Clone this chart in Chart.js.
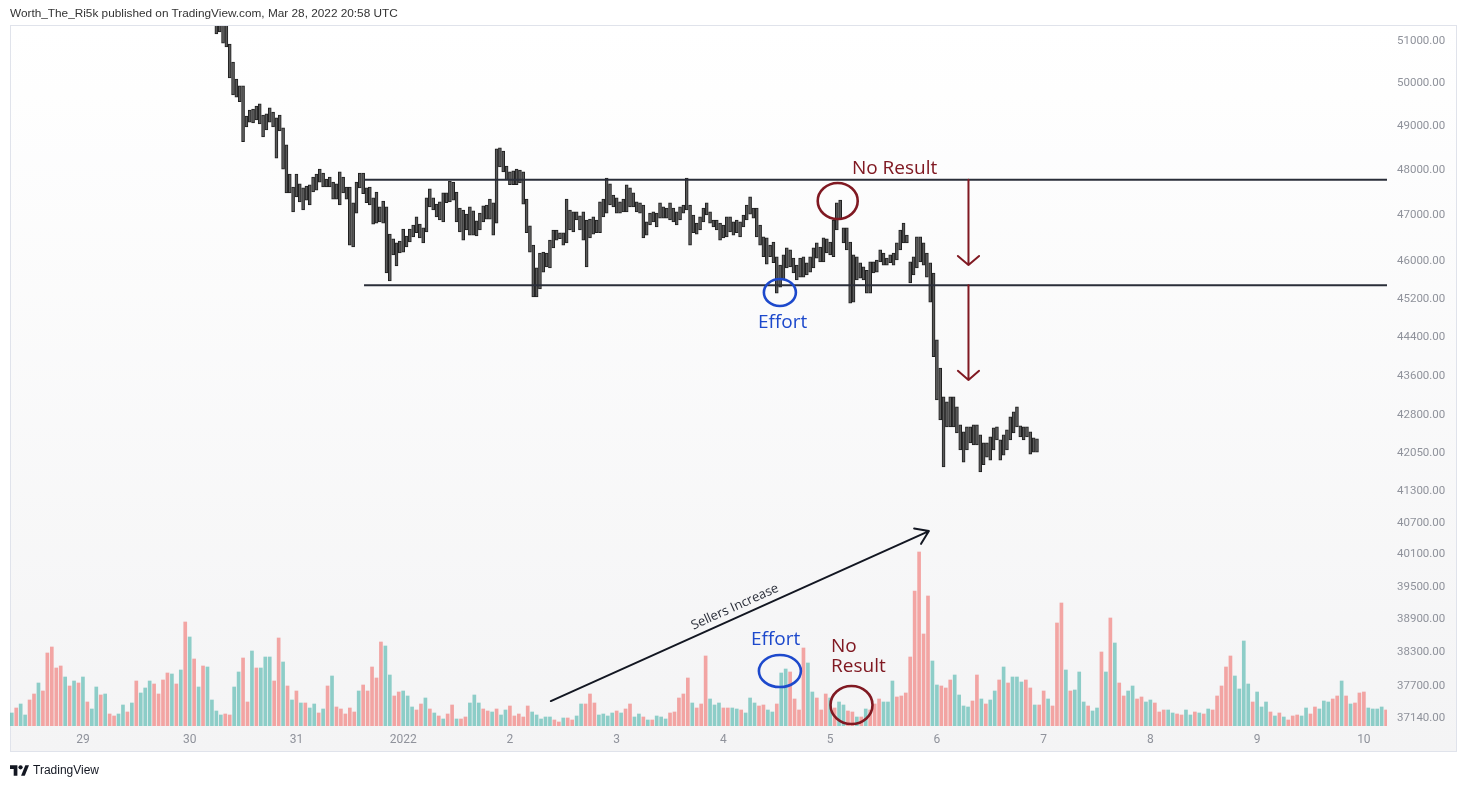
<!DOCTYPE html>
<html>
<head>
<meta charset="utf-8">
<script src="https://cdn.jsdelivr.net/npm/chart.js@4.4.0/dist/chart.umd.min.js"></script>
<style>
  body { margin: 0; width: 1467px; height: 788px; overflow: hidden; position: relative; background: #fff; }
  canvas { position: absolute; left: 0; top: 0; }
  #head { position: absolute; left: 10px; top: 6px; font: 11.8px "Liberation Sans", sans-serif; color: #333; line-height: 14px; }
  #foot { position: absolute; left: 10px; top: 763px; font: 12px "Liberation Sans", sans-serif; color: #131722; display: flex; align-items: center; line-height: 14px; }
  #foot svg { margin-right: 4px; }
</style>
</head>
<body>
<canvas id="chart" width="1467" height="788"></canvas>
<div id="head">Worth_The_Ri5k published on TradingView.com, Mar 28, 2022 20:58 UTC</div>
<div id="foot"><svg width="19" height="11" viewBox="0 0 36 20"><path d="M14 20H7V7H0V0h14z" fill="#131722"/><circle cx="20" cy="4" r="4" fill="#131722"/><path d="M29 0h7l-8 20h-7z" fill="#131722"/></svg>TradingView</div>
<script>
// time: hours since Dec 28 2021 00:00 UTC
var dayLabels = ['29', '30', '31', '2022', '2', '3', '4', '5', '6', '7', '8', '9', '10'];
var priceTicks = [51000, 50000, 49000, 48000, 47000, 46000, 45200, 44400, 43600, 42800, 42050, 41300, 40700, 40100, 39500, 38900, 38300, 37700, 37140];

// 45 min price bars, first one Dec 30 06:00
var priceStart = 54, priceStep = 0.75;
var priceHigh = [
  51700,51650,51500,51400,50930,50500,50100,49940,49940,49240,
  49380,49400,49470,49520,49260,49290,49430,49330,49200,49260,
  48970,48580,47920,47630,47920,47700,47610,47650,47680,47850,
  47920,48030,47940,47810,47850,47740,47700,47970,47850,47630,
  47630,47280,47740,47940,47940,47610,47630,47390,47520,47190,
  47320,47190,46590,46490,46400,46440,46700,46550,46700,46790,
  46970,46810,46730,47390,47590,47390,47250,47300,47500,47500,
  47760,47740,47520,47160,47120,47030,47190,47100,46880,47050,
  47210,47230,47360,47280,48490,48510,48440,48100,47970,47990,
  48030,48010,47970,47360,46770,46350,45860,46180,46200,46180,
  46460,46680,46680,46620,46620,47360,47120,47080,47080,46990,
  47080,46900,46920,46970,46900,47300,47360,47830,47700,47450,
  47390,47300,47360,47680,47610,47500,47300,47280,47230,46860,
  47050,47080,47050,47280,47190,47160,47280,47160,47080,47190,
  47230,47830,47230,47010,46830,46970,47160,47280,47080,46900,
  46900,46830,46790,46970,46970,46860,46900,46860,47010,47230,
  47410,47160,47160,46790,46530,46510,46350,46420,46100,45920,
  46140,46290,46250,46070,45920,46070,46100,45970,46100,46290,
  46400,46310,46510,46490,46420,46900,47280,47340,46730,46730,
  46420,46140,46100,45970,45880,45810,45990,45990,46030,46250,
  46180,46070,46140,46180,46400,46680,46830,46570,45990,46100,
  46530,46530,46400,46180,45970,45750,44340,43760,43170,43070,
  43170,43170,42970,42610,42470,42570,42570,42610,42610,42410,
  42250,42250,42370,42550,42570,42310,42410,42510,42770,42870,
  42970,42590,42570,42570,42470,42350,42330
];
var priceLow = [
  51170,51220,50950,50860,50130,49730,49680,49570,48650,48990,
  49100,49080,49150,49060,48760,48920,49100,48990,48280,48900,
  48030,47500,47500,47080,47410,47300,47120,47340,47230,47520,
  47560,47740,47630,47630,47630,47360,47360,47230,47500,47360,
  46350,46310,47050,47610,47480,47280,47230,46810,46830,46860,
  46830,45750,45580,46140,45900,46180,46200,46310,46420,46530,
  46620,46510,46400,46640,47190,47120,46970,46900,46860,47280,
  47300,47340,46860,46640,46460,46680,46570,46570,46550,46680,
  46860,46920,46920,46570,46830,48080,47970,47790,47680,47680,
  47680,47720,47250,46620,46200,45240,45240,45410,45770,45880,
  45860,46290,46460,46490,46350,46400,46680,46640,46900,46680,
  46460,45880,46510,46590,46620,46620,46970,47050,47230,47190,
  47050,47050,47080,47080,47190,47190,47080,47050,46510,46570,
  46790,46860,46750,46940,46940,46940,46900,46860,46790,46900,
  47050,47120,46350,46620,46590,46680,46860,47010,46830,46750,
  46680,46460,46510,46530,46640,46570,46620,46530,46750,46900,
  47030,46940,46530,46350,46100,45940,46100,45970,45320,45450,
  45600,45860,45880,45750,45600,45660,45660,45710,45770,45860,
  46070,45990,45990,46180,46140,46100,46680,46900,46400,46250,
  45110,45130,45600,45640,45600,45320,45320,45750,45770,45990,
  45920,45920,45970,45920,46030,46250,46400,46400,45540,45710,
  45860,45990,45920,45660,45130,43990,43110,42710,41780,42570,
  42570,42570,42450,42110,41870,42110,42250,42210,42210,41680,
  41820,41970,41910,42110,42310,41910,42010,42110,42310,42450,
  42570,42370,42310,42370,42030,42070,42070
];

// hourly volume, first bar Dec 28 08:00
var volumeStart = 8;
var volume = [
  520,720,880,440,1040,1280,1720,1400,2920,3160,
  2320,2400,1960,1600,1800,1720,1960,960,680,1560,
  1240,1280,480,400,480,840,560,920,1800,1320,
  1520,1800,1680,1280,1840,2120,2080,1680,2240,4160,
  3560,2680,1560,2400,2360,1040,600,440,480,440,
  1560,2160,2720,960,3000,2320,2320,2760,2760,1800,
  3520,2560,1600,1040,1400,920,920,720,880,520,
  680,1600,2000,760,680,480,720,560,1400,1640,
  1400,2360,1920,3360,3200,2040,1200,1360,1400,1200,
  760,640,880,1120,680,520,400,280,480,840,
  280,280,360,920,1240,920,680,600,560,680,
  440,640,800,400,480,360,800,560,440,280,
  360,360,240,160,320,320,240,400,880,880,
  1280,920,440,480,400,520,600,520,680,880,
  360,480,360,240,240,400,360,280,520,560,
  1120,1280,1920,920,720,880,2800,1080,840,920,
  720,720,720,680,640,520,1120,920,800,840,
  640,560,880,2120,2280,2160,1080,640,3120,2520,
  1360,1120,640,1280,1120,720,960,840,600,560,
  360,360,680,640,880,1080,960,960,1800,1160,
  1200,1320,2760,5400,6960,3680,5200,2600,1640,1600,
  1520,1840,2040,1240,800,760,1000,2040,1080,880,
  1040,1400,1840,2360,1720,1960,1960,1760,1840,1520,
  840,840,1400,1080,800,4120,4920,2240,1400,1440,
  2160,960,800,600,720,2960,2160,4320,3320,1720,
  1200,1400,1600,1080,1160,960,1040,920,560,640,
  640,520,480,440,640,440,560,520,480,680,
  640,1200,1600,2360,2800,2000,1480,3400,1680,960,
  1360,760,960,560,400,520,360,240,400,440,
  400,720,480,760,680,1000,960,1080,1200,1800,
  1200,880,920,1320,1360,720,680,680,760,640
];
// u = up bar, d = down bar
var volumeSide = (
  'uduudduddd ddudududuu dudduududu uuddddudud ududuuuudd ' +
  'uudduduuud dudududuud ududddddud dddduudduu uddudududd ' +
  'udduuuddud uuddddduuu uuddudduud dduuuududd uududuuudd ' +
  'ddduddduuu dduuduuudd uuduuddddu uddduduudd ududdduuud ' +
  'ddddddduud dduuuuddud uududuuudd uddudddudu uuduududud ' +
  'duudduuddd uudduududu ddddduuuud uuudududdd uudduuuddu ' +
  'duddduuuud'
).replace(/ /g, '').split('');

var rangeTop = 47790, rangeBottom = 45490, rangeFrom = 87.2;

var darkRed = '#801922', blue = '#1d49cc';
var notes = [
  { text: 'No Result', h: 196.9, p: 47920, color: darkRed },
  { text: 'Effort', h: 175.75, p: 44590, color: blue },
  { text: 'Effort', h: 174.2, p: 38435, color: blue },
  { text: 'No', h: 192.2, p: 38308, color: darkRed },
  { text: 'Result', h: 192.2, p: 37952, color: darkRed }
];
var rings = [
  { h: 193.7, p: 47320, rx: 20, ry: 18, color: darkRed },
  { h: 180.7, p: 45334, rx: 16, ry: 13.5, color: blue },
  { h: 180.7, p: 37969, rx: 21, ry: 16, color: blue },
  { h: 196.8, p: 37370, rx: 21, ry: 19, color: darkRed }
];
var arrows = [
  { h1: 223.1, p1: rangeTop, h2: 223.1, p2: 45920, color: darkRed, len: 14, spread: 0.86 },
  { h1: 223.1, p1: rangeBottom, h2: 223.1, p2: 43514, color: darkRed, len: 14, spread: 0.86 },
  { h1: 129.2, p1: 37439, h2: 214.2, p2: 40542, color: '#131722', len: 15, spread: 0.6 }
];

var priceBars = priceHigh.map(function (hi, i) {
  return { x: priceStart + i * priceStep, y: [priceLow[i], hi] };
});
var volBars = volume.map(function (v, i) {
  return { x: volumeStart + i, y: v };
});
var volColors = volumeSide.map(function (s) {
  return s === 'u' ? 'rgba(38,166,154,0.5)' : 'rgba(239,83,80,0.5)';
});

var background = {
  id: 'background',
  beforeDraw: function (chart) {
    var ctx = chart.ctx;
    ctx.save();
    ctx.fillStyle = '#ffffff';
    ctx.fillRect(0, 0, chart.width, chart.height);
    var g = ctx.createLinearGradient(0, 26, 0, 752);
    g.addColorStop(0, '#ffffff');
    g.addColorStop(1, '#f4f4f5');
    ctx.fillStyle = g;
    ctx.fillRect(10, 26, 1447, 726);
    ctx.strokeStyle = '#e0e3eb';
    ctx.lineWidth = 1;
    ctx.strokeRect(10.5, 25.5, 1446, 726);
    ctx.restore();
  }
};

var drawings = {
  id: 'drawings',
  afterDatasetsDraw: function (chart) {
    var ctx = chart.ctx, xs = chart.scales.x, ys = chart.scales.y;
    function X(h) { return xs.getPixelForValue(h); }
    function Y(p) { return ys.getPixelForValue(p); }
    ctx.save();
    ctx.lineCap = 'round';
    ctx.lineJoin = 'round';

    notes.forEach(function (n) {
      ctx.font = '19px "Open Sans"';
      ctx.fillStyle = n.color;
      ctx.textAlign = 'left';
      ctx.textBaseline = 'alphabetic';
      ctx.fillText(n.text, X(n.h), Y(n.p));
    });

    rings.forEach(function (r) {
      ctx.beginPath();
      ctx.ellipse(X(r.h), Y(r.p), r.rx, r.ry, 0, 0, Math.PI * 2);
      ctx.lineWidth = 2.6;
      ctx.strokeStyle = r.color;
      ctx.stroke();
    });

    arrows.forEach(function (a) {
      var x1 = X(a.h1), y1 = Y(a.p1), x2 = X(a.h2), y2 = Y(a.p2);
      var ang = Math.atan2(y2 - y1, x2 - x1);
      ctx.strokeStyle = a.color;
      ctx.lineWidth = 2;
      ctx.beginPath();
      ctx.moveTo(x1, y1);
      ctx.lineTo(x2, y2);
      ctx.moveTo(x2 - a.len * Math.cos(ang - a.spread), y2 - a.len * Math.sin(ang - a.spread));
      ctx.lineTo(x2, y2);
      ctx.lineTo(x2 - a.len * Math.cos(ang + a.spread), y2 - a.len * Math.sin(ang + a.spread));
      ctx.stroke();
    });

    // label along the black arrow
    var s = arrows[2];
    var ang2 = Math.atan2(Y(s.p2) - Y(s.p1), X(s.h2) - X(s.h1));
    ctx.translate(X(170.6), Y(39125));
    ctx.rotate(ang2);
    ctx.font = '13px "Open Sans"';
    ctx.fillStyle = '#2a2e39';
    ctx.textAlign = 'center';
    ctx.textBaseline = 'middle';
    ctx.fillText('Sellers Increase', 0, 0);
    ctx.restore();
  }
};

new Chart(document.getElementById('chart'), {
  type: 'bar',
  data: {
    datasets: [
      {
        type: 'line',
        data: [{ x: rangeFrom, y: rangeTop }, { x: 330, y: rangeTop }],
        borderColor: '#2a2e39', borderWidth: 2, pointRadius: 0, order: 0
      },
      {
        type: 'line',
        data: [{ x: rangeFrom, y: rangeBottom }, { x: 330, y: rangeBottom }],
        borderColor: '#2a2e39', borderWidth: 2, pointRadius: 0, order: 0
      },
      {
        data: priceBars,
        backgroundColor: '#5a5a5a',
        borderColor: '#1e1e1e',
        borderWidth: 1,
        borderSkipped: false,
        barThickness: 3,
        grouped: false,
        order: 1
      },
      {
        data: volBars,
        yAxisID: 'vol',
        backgroundColor: volColors,
        borderWidth: 0,
        barThickness: 3,
        grouped: false,
        order: 2
      }
    ]
  },
  options: {
    responsive: false,
    animation: false,
    events: [],
    layout: { padding: { left: 10, right: 10, top: 26, bottom: 36 } },
    plugins: { legend: { display: false }, tooltip: { enabled: false } },
    scales: {
      x: {
        type: 'linear',
        min: 7.6,
        max: 317.2,
        offset: false,
        grid: { display: false, drawTicks: false, offset: false },
        border: { display: false },
        afterBuildTicks: function (scale) {
          scale.ticks = dayLabels.map(function (l, i) { return { value: 24 + i * 24 }; });
        },
        afterFit: function (scale) { scale.height = 26; },
        ticks: {
          autoSkip: false,
          maxRotation: 0,
          padding: 7,
          color: '#8f929b',
          font: { family: 'Roboto', size: 12 },
          callback: function (v) { return dayLabels[Math.round((v - 24) / 24)]; }
        }
      },
      y: {
        type: 'logarithmic',
        position: 'right',
        min: 37004,
        max: 51361,
        bounds: 'data',
        grid: { display: false, drawTicks: false },
        border: { display: false },
        afterBuildTicks: function (scale) {
          scale.ticks = priceTicks.map(function (v) { return { value: v }; });
        },
        afterFit: function (scale) { scale.width = 70; },
        ticks: {
          autoSkip: false,
          padding: 10,
          color: '#8f929b',
          font: { family: 'Roboto', size: 11.5 },
          callback: function (v) { return Number(v).toFixed(2); }
        }
      },
      vol: {
        type: 'linear',
        display: false,
        min: 0,
        max: 28000
      }
    }
  },
  plugins: [background, drawings]
});
</script>
</body>
</html>
